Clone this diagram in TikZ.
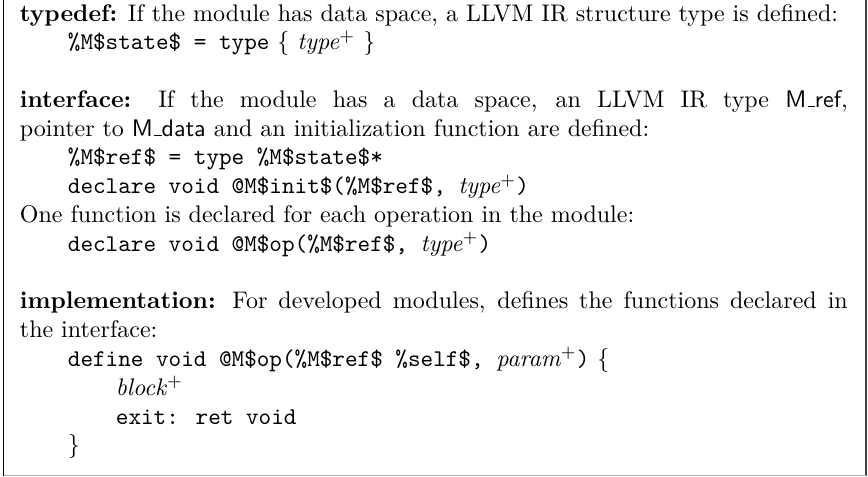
\documentclass[tikz,border=0pt]{standalone}
% low underscore bar sitting on the baseline, as in OT1 fonts
\newcommand\lowbar{\leavevmode\kern.06em\vbox{\hrule width.3em}}
\begin{document}
\begin{tikzpicture}[x=1pt,y=1pt,
  txt/.style={anchor=base west, inner sep=0pt, outer sep=0pt},
  frame/.style={line width=0.5pt}]
% page area
\useasboundingbox (0,0) rectangle (361.7,-198.75);

% open frame: left, right and bottom rules
\coordinate (tl) at (1.5,0);
\coordinate (bl) at (1.5,-198.3);
\coordinate (tr) at (360.9,0);
\coordinate (br) at (360.9,-198.3);
\draw[frame, black] (tl) -- (bl);
\draw[frame, black!75] (tr) -- (br);
\draw[frame, black!30] (bl) -- (br);

% typedef
\node[txt] (td1) at (8.3,-8.75) {\textbf{typedef:} If the module has data space, a LLVM IR structure type is defined:};
\node[txt] (td2) at (28.3,-20.75) {\texttt{\%M\$state\$ = type} $\{$ \textit{type}$^+$ $\}$};

% interface
\node[txt] (if1) at (8.3,-44.75) {\makebox[345pt][s]{\textbf{interface:} If the module has a data space, an LLVM IR type \textsf{M\lowbar ref},}};
\node[txt] (if2) at (8.3,-56.75) {pointer to \textsf{M\lowbar data} and an initialization function are defined:};
\node[txt] (if3) at (28.3,-68.75) {\texttt{\%M\$ref\$ = type \%M\$state\$*}};
\node[txt] (if4) at (28.3,-80.75) {\texttt{declare void @M\$init\$(\%M\$ref\$, }\textit{type}$^+$\texttt{)}};
\node[txt] (if5) at (8.3,-92.75) {One function is declared for each operation in the module:};
\node[txt] (if6) at (28.3,-104.75) {\texttt{declare void @M\$op(\%M\$ref\$, }\textit{type}$^+$\texttt{)}};

% implementation
\node[txt] (im1) at (8.3,-128.75) {\makebox[345pt][s]{\textbf{implementation:} For developed modules, defines the functions declared in}};
\node[txt] (im2) at (8.3,-140.75) {the interface:};
\node[txt] (im3) at (28.3,-152.75) {\texttt{define void @M\$op(\%M\$ref\$ \%self\$, }\textit{param}$^+$\texttt{)} $\{$};
\node[txt] (im4) at (48.3,-164.75) {\textit{block}$^+$};
\node[txt] (im5) at (48.3,-176.75) {\texttt{exit: ret void}};
\node[txt] (im6) at (28.3,-188.75) {$\}$};
\end{tikzpicture}
\end{document}
